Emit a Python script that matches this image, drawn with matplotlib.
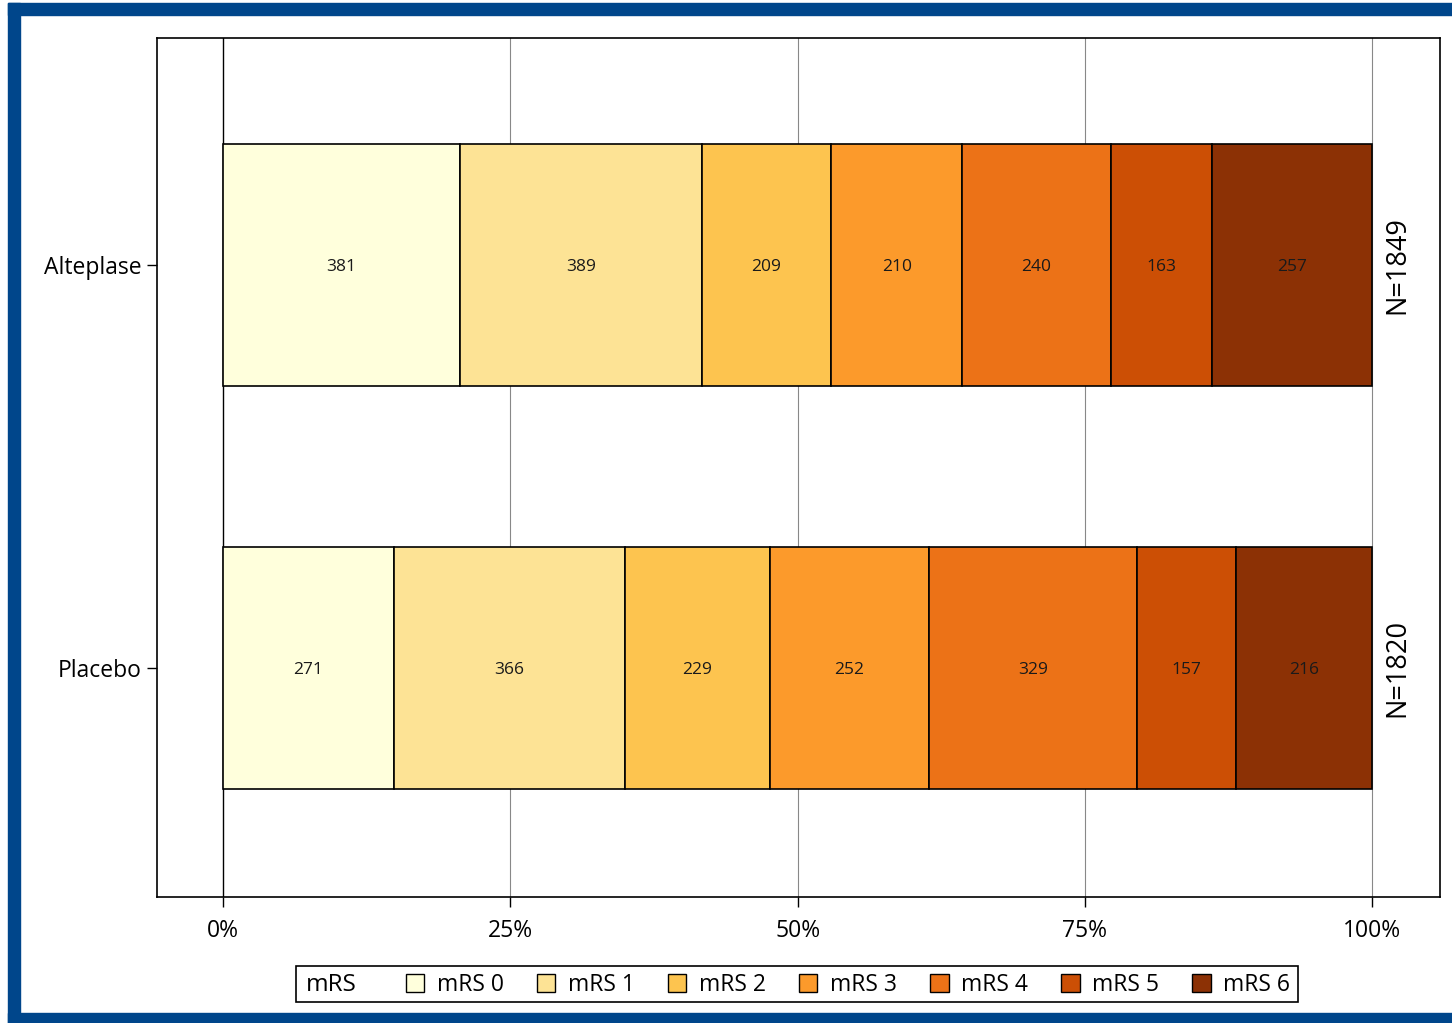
import matplotlib.pyplot as plt
import numpy as np
from matplotlib.patches import Rectangle

plt.rcParams['font.family'] = ['Open Sans', 'DejaVu Sans']

# mRS counts per treatment group
groups = ['Alteplase', 'Placebo']
categories = ['mRS 0', 'mRS 1', 'mRS 2', 'mRS 3', 'mRS 4', 'mRS 5', 'mRS 6']
alteplase = [381, 389, 209, 210, 240, 163, 257]
placebo = [271, 366, 229, 252, 329, 157, 216]
colors = ['#ffffdc', '#fde395', '#fdc44f', '#fc9a2b', '#ec7217', '#cc4f05', '#8c3105']
xticks = [0, 25, 50, 75, 100]

W, H = 1452, 1023
fig = plt.figure(figsize=(W / 100, H / 100), dpi=100)

# blue frame round the figure (left, top, bottom)
blue = '#00468b'
fig.patches.append(Rectangle((8 / W, 0), 12 / W, 1 - 3 / H, transform=fig.transFigure, color=blue))
fig.patches.append(Rectangle((8 / W, 1 - 15 / H), 1, 12 / H, transform=fig.transFigure, color=blue))
fig.patches.append(Rectangle((8 / W, 0), 1, 10 / H, transform=fig.transFigure, color=blue))

ax = fig.add_axes([157 / W, 1 - 897 / H, (1440 - 157) / W, (897 - 38) / H])

ypos = {'Alteplase': 1, 'Placebo': 0}
data = {'Alteplase': alteplase, 'Placebo': placebo}

for g in groups:
    vals = np.array(data[g], dtype=float)
    total = vals.sum()
    pct = vals / total * 100
    left = 0.0
    for v, p, c in zip(vals, pct, colors):
        ax.barh(ypos[g], p, left=left, height=0.6, color=c, edgecolor='black',
                linewidth=1.2, zorder=3)
        ax.text(left + p / 2, ypos[g] - 0.005, f'{int(v)}', ha='center', va='center',
                fontsize=12.5, color='#1a1a1a', zorder=4)
        left += p
    ax.text(102.2, ypos[g], f'N={int(total)}', rotation=90, ha='center', va='center',
            fontsize=19.5, color='black')

ax.set_xlim(-5.74, 105.9)
ax.set_ylim(-0.568, 1.563)
ax.set_xticks(xticks)
ax.set_xticklabels([f'{t}%' for t in xticks], fontsize=16.5)
ax.set_yticks([ypos[g] for g in groups])
ax.set_yticklabels(groups, fontsize=16.5)
ax.tick_params(axis='x', length=7, width=1, pad=9)
ax.tick_params(axis='y', length=7, width=1, pad=4)
for t in xticks:
    ax.axvline(t, color='black' if t == 0 else '#888888', linewidth=1.0 if t == 0 else 0.8, zorder=1)
for s in ax.spines.values():
    s.set_linewidth(1.2)

# legend: frame + "mRS" label drawn separately, entries via fig.legend
fig.patches.append(Rectangle((296 / W, 1 - 1002 / H), (1298 - 296) / W, 36 / H,
                             transform=fig.transFigure, facecolor='white',
                             edgecolor='black', linewidth=1.2, zorder=1))
fig.text(306 / W, 1 - 985 / H, 'mRS', fontsize=17.5, ha='left', va='center')
handles = [Rectangle((0, 0), 1, 1, facecolor=c, edgecolor='black', linewidth=1) for c in colors]
leg = fig.legend(handles, categories, loc='center', bbox_to_anchor=(848 / W, 1 - 985 / H),
                 ncol=7, fontsize=16.5, frameon=False,
                 handlelength=0.8, handleheight=0.8, handletextpad=0.55,
                 columnspacing=1.45, borderpad=0.1)

fig.savefig('out.png', dpi=100)
